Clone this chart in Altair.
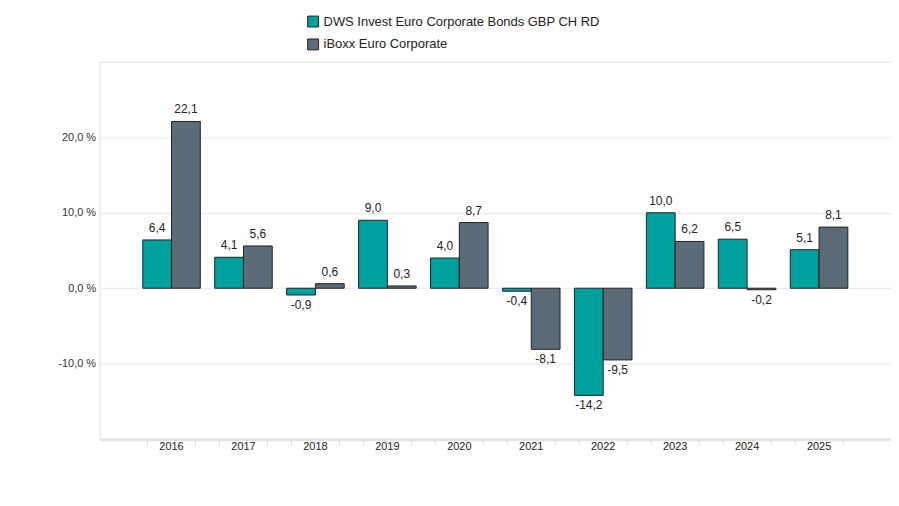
import altair as alt
import pandas as pd

years = ["2016", "2017", "2018", "2019", "2020", "2021", "2022", "2023", "2024", "2025"]
series = ["DWS Invest Euro Corporate Bonds GBP CH RD", "iBoxx Euro Corporate"]
dws = [6.4, 4.1, -0.9, 9.0, 4.0, -0.4, -14.2, 10.0, 6.5, 5.1]
iboxx = [22.1, 5.6, 0.6, 0.3, 8.7, -8.1, -9.5, 6.2, -0.2, 8.1]
colors = ["#00A09E", "#5B6B77"]
y_grid = [-20, -10, 0, 10, 20, 30]
tick_sides = ["L", "R"]

rows = []
for i, y in enumerate(years):
    rows.append({"year": y, "series": series[0], "value": dws[i]})
    rows.append({"year": y, "series": series[1], "value": iboxx[i]})
df = pd.DataFrame(rows)
ticks_df = pd.DataFrame([{"year": y, "side": s} for y in years for s in tick_sides])

W, H = 795, 379
FONT = "Liberation Sans"

x_axis = alt.Axis(title=None, labelAngle=0, labelFont=FONT, labelFontSize=11,
                  labelColor="#222", ticks=False, domainColor="#e4e4e4",
                  domainWidth=3, labelPadding=1, grid=False)
y_axis = alt.Axis(title=None, values=y_grid, labelFont=FONT, labelFontSize=11,
                  labelColor="#333", ticks=False, domain=False,
                  gridColor="#e8e8e8", gridWidth=1, labelPadding=4,
                  labelExpr="(datum.value < -15 || datum.value > 25) ? '' : replace(replace(format(datum.value, '.1f'), '.', ','), '\u2212', '-') + ' %'")
x_scale = alt.Scale(paddingInner=0.2, paddingOuter=0.6)
y_scale = alt.Scale(domain=[-20, 30], nice=False)
xoff = alt.XOffset("series:N", scale=alt.Scale(domain=series))

base = alt.Chart(df)

bars = base.mark_bar(stroke="#222", strokeWidth=1).encode(
    x=alt.X("year:N", sort=years, scale=x_scale, axis=x_axis),
    xOffset=xoff,
    y=alt.Y("value:Q", scale=y_scale, axis=y_axis),
    color=alt.Color("series:N", scale=alt.Scale(domain=series, range=colors),
                    legend=alt.Legend(title=None, orient="none", legendX=208, legendY=-47,
                                      symbolType="square", symbolSize=120,
                                      symbolStrokeColor="#222", symbolStrokeWidth=1,
                                      labelFont=FONT, labelFontSize=13, labelColor="#222",
                                      labelLimit=500, rowPadding=8, symbolOpacity=1)),
)

label_expr = "replace(replace(format(datum.value, '.1f'), '.', ','), '\u2212', '-')"
pos_text = base.transform_filter("datum.value >= 0").transform_calculate(
    lab=label_expr
).mark_text(baseline="bottom", dy=-5, font=FONT, fontSize=12, color="#222").encode(
    x=alt.X("year:N", sort=years, scale=x_scale, axis=x_axis), xOffset=xoff,
    y=alt.Y("value:Q", scale=y_scale, axis=y_axis), text="lab:N")
neg_text = base.transform_filter("datum.value < 0").transform_calculate(
    lab=label_expr
).mark_text(baseline="top", dy=5, font=FONT, fontSize=12, color="#222").encode(
    x=alt.X("year:N", sort=years, scale=x_scale, axis=x_axis), xOffset=xoff,
    y=alt.Y("value:Q", scale=y_scale, axis=y_axis), text="lab:N")

tick_layer = alt.Chart(ticks_df).mark_rule(color="#d8d8d8", strokeWidth=1).encode(
    x=alt.X("year:N", sort=years, scale=x_scale, axis=x_axis),
    xOffset=alt.XOffset("side:N", scale=alt.Scale(type="point", domain=tick_sides, padding=0.1)),
    y=alt.value(H + 1), y2=alt.value(H + 6))

chart = alt.layer(bars, pos_text, neg_text, tick_layer).resolve_scale(
    xOffset="independent"
).properties(
    width=W, height=H,
    autosize=alt.AutoSizeParams(type="none"),
    padding={"left": 92, "top": 53, "right": 0, "bottom": 50},
).configure_view(strokeWidth=0, strokeOpacity=0).configure_axisY(
    domain=False, ticks=False
).configure(background="white")

chart.save("out.html", embed_options={"renderer": "svg", "actions": False})
